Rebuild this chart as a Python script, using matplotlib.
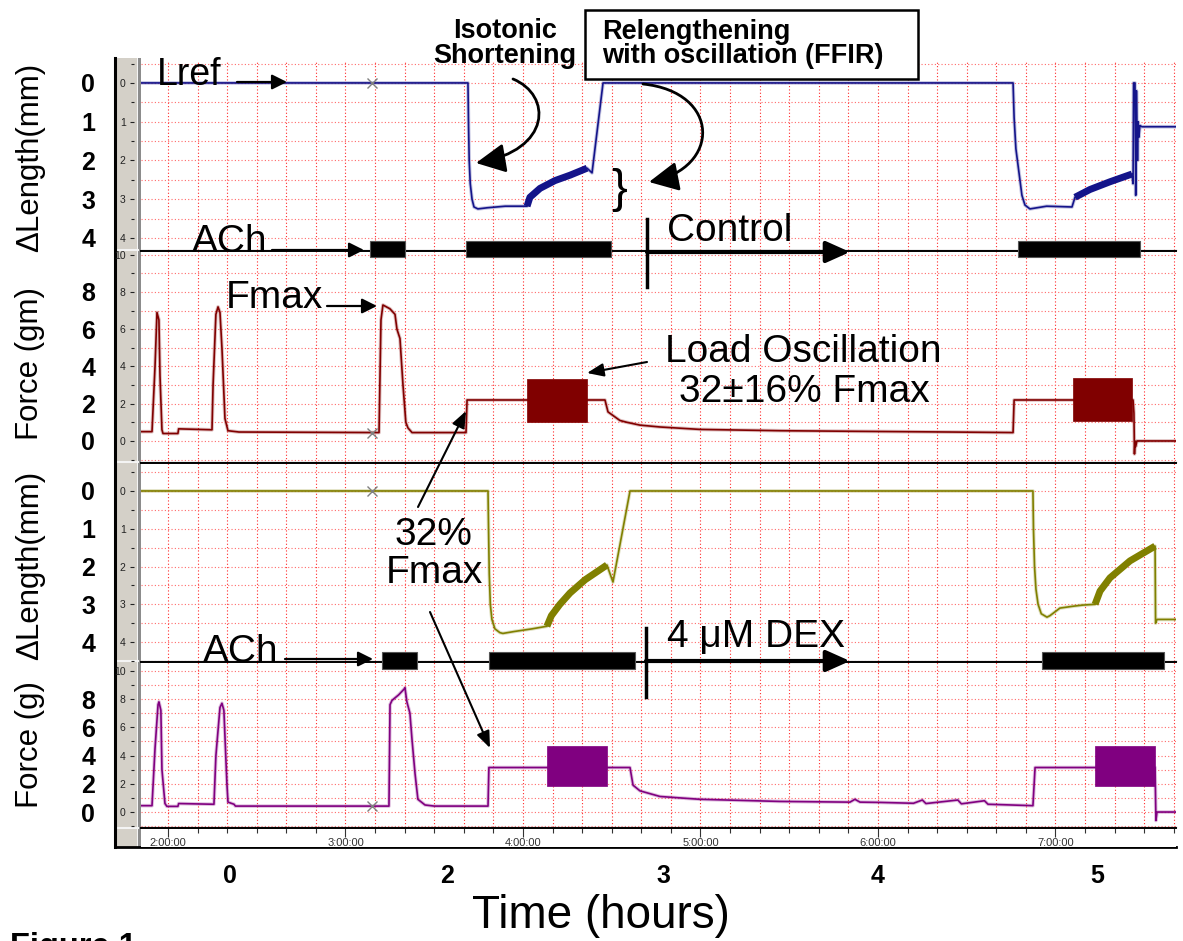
import numpy as np
import matplotlib
matplotlib.use('Agg')
import matplotlib.pyplot as plt
from matplotlib.patches import Rectangle, FancyArrowPatch
from matplotlib.path import Path
from matplotlib.ticker import MultipleLocator
from matplotlib.transforms import blended_transform_factory

plt.rcParams['font.family'] = ['Liberation Sans', 'DejaVu Sans']

W, H = 1183, 941
T0, T1 = 1.848, 7.679  # visible clock time on the recorder, hours

# ---- control run: length (mm below Lref) ----
ctrl_len_t = [1.848, 3.690, 3.693, 3.697, 3.703, 3.713, 3.724, 3.746, 3.80, 3.90,
              4.023, 4.039, 4.096, 4.180, 4.265, 4.361, 4.389, 4.451, 6.761, 6.767,
              6.777, 6.794, 6.811, 6.828, 6.856, 6.95, 7.093, 7.110, 7.194, 7.307,
              7.431, 7.437, 7.440, 7.448, 7.452, 7.456, 7.462, 7.466, 7.470, 7.476,
              7.487, 7.679]
ctrl_len_mm = [0, 0, 1.0, 2.0, 2.6, 3.0, 3.2, 3.25, 3.22, 3.18,
               3.18, 2.95, 2.72, 2.52, 2.38, 2.2, 2.32, 0, 0, 0.9,
               1.7, 2.3, 2.9, 3.15, 3.25, 3.18, 3.2, 2.95, 2.75, 2.55,
               2.35, 2.6, 0, 0, 2.9, 0.2, 2.0, 1.0, 1.4, 1.1,
               1.13, 1.13]

# ---- control run: force (gm) ----
ctrl_force_t = [1.848, 1.910, 1.927, 1.938, 1.949, 1.955, 1.966, 1.972, 2.056, 2.060,
                2.248, 2.254, 2.270, 2.282, 2.293, 2.304, 2.321, 2.338, 2.40, 3.189,
                3.200, 3.211, 3.25, 3.279, 3.290, 3.307, 3.324, 3.340, 3.352, 3.375,
                3.679, 3.685, 4.462, 4.479, 4.546, 4.586, 4.659, 4.772, 4.997, 5.448,
                5.842, 6.406, 6.761, 6.767, 7.437, 7.442, 7.445, 7.448, 7.452, 7.459,
                7.679]
ctrl_force_g = [0.5, 0.5, 4.0, 6.9, 6.5, 3.5, 0.6, 0.4, 0.4, 0.65,
                0.6, 3.0, 6.8, 7.2, 6.9, 5.0, 1.2, 0.55, 0.48, 0.45,
                6.5, 7.3, 7.1, 6.8, 6.0, 5.5, 3.0, 1.0, 0.7, 0.45,
                0.45, 2.2, 2.2, 1.56, 1.1, 1.0, 0.85, 0.75, 0.62, 0.55,
                0.52, 0.48, 0.45, 2.2, 2.2, 1.5, -0.7, 0.0, -0.3, 0.0,
                0.0]

# ---- 4 uM DEX run: length (mm) ----
dex_len_t = [1.848, 3.803, 3.806, 3.810, 3.816, 3.825, 3.842, 3.870, 3.887, 3.95,
             4.05, 4.135, 4.16, 4.208, 4.265, 4.35, 4.473, 4.507, 4.603, 6.873,
             6.876, 6.882, 6.890, 6.902, 6.920, 6.952, 6.969, 7.025, 7.10, 7.155,
             7.223, 7.251, 7.307, 7.42, 7.561, 7.564, 7.572, 7.679]
dex_len_mm = [0, 0, 1.0, 2.2, 3.0, 3.4, 3.65, 3.75, 3.77, 3.72,
              3.65, 3.58, 3.3, 3.0, 2.7, 2.35, 1.96, 2.41, 0, 0,
              1.0, 2.0, 2.6, 3.0, 3.25, 3.34, 3.3, 3.1, 3.05, 3.02,
              3.0, 2.65, 2.3, 1.85, 1.46, 3.5, 3.4, 3.4]

# ---- 4 uM DEX run: force (g) ----
dex_force_t = [1.848, 1.910, 1.927, 1.944, 1.949, 1.960, 1.966, 1.983, 1.994, 2.056,
               2.060, 2.259, 2.270, 2.293, 2.304, 2.315, 2.332, 2.338, 2.372, 2.38,
               3.245, 3.251, 3.262, 3.30, 3.330, 3.335, 3.346, 3.363, 3.375, 3.392,
               3.408, 3.448, 3.50, 3.803, 3.808, 4.603, 4.620, 4.659, 4.772, 4.997,
               5.448, 5.842, 5.870, 5.899, 6.011, 6.20, 6.25, 6.27, 6.45, 6.47,
               6.60, 6.62, 6.873, 6.885, 7.561, 7.566, 7.572, 7.679]
dex_force_g = [0.45, 0.45, 4.5, 7.6, 7.8, 7.2, 3.0, 0.6, 0.4, 0.4,
               0.6, 0.55, 4.0, 7.4, 7.7, 7.2, 2.0, 0.7, 0.55, 0.42,
               0.42, 7.6, 7.9, 8.3, 8.7, 8.8, 7.8, 7.0, 5.1, 2.7,
               0.9, 0.5, 0.42, 0.42, 3.15, 3.15, 1.9, 1.5, 1.1, 0.9,
               0.75, 0.7, 0.9, 0.7, 0.68, 0.62, 0.85, 0.6, 0.85, 0.58,
               0.8, 0.55, 0.45, 3.15, 3.15, -0.6, 0.0, 0.0]

# load oscillation windows (hours) and force envelope
ctrl_osc_t = [(4.023, 4.361), (7.099, 7.431)]
ctrl_osc_lo = [1.0, 1.07]
ctrl_osc_hi = [3.3, 3.4]
dex_osc_t = [(4.135, 4.473), (7.223, 7.561)]
dex_osc_lo = [1.85, 1.85]
dex_osc_hi = [4.7, 4.65]

# ACh stimulation periods (hours)
ctrl_ach = [(3.138, 3.335), (3.679, 4.496), (6.789, 7.476)]
dex_ach = [(3.206, 3.403), (3.808, 4.631), (6.924, 7.611)]

# cursor marks
cursor_t = 3.149
cursor_v = [0, 0.45, 0, 0.42]

clock_hours = [2, 3, 4, 5, 6, 7]
clock_labels = ['2:00:00', '3:00:00', '4:00:00', '5:00:00', '6:00:00', '7:00:00']
elapsed_t = [2.349, 3.572, 4.789, 6.0, 7.234]
elapsed_labels = ['0', '2', '3', '4', '5']


def rect_px(top, bot):
    return [141 / W, (H - bot) / H, 1035 / W, (bot - top) / H]


fig = plt.figure(figsize=(W / 100, H / 100), dpi=100)
fig.patch.set_facecolor('white')

# background: instrument frame
bg = fig.add_axes([0, 0, 1, 1], zorder=-5)
bg.set_xlim(0, W)
bg.set_ylim(H, 0)
bg.axis('off')
bg.add_patch(Rectangle((117, 58), 21, 789, facecolor='#d4d0c8', edgecolor='none'))
bg.add_patch(Rectangle((137, 58), 1.5, 789, facecolor='#f4f4f4', edgecolor='none'))
bg.add_patch(Rectangle((138.5, 58), 2.5, 789, facecolor='#8c8c8c', edgecolor='none'))
for yy in [250, 462, 661, 828]:
    bg.plot([117, 138], [yy, yy], color='#f4f4f4', lw=1.5)
bg.plot([115.5, 115.5], [58, 847], color='k', lw=2.2)
bg.plot([115, 1176], [847, 847], color='k', lw=2)


def panel(rect, ylim, major, labels, minor, outer, ylabel, ylab_y):
    ax = fig.add_axes(rect)
    ax.set_facecolor('white')
    ax.set_xlim(T0, T1)
    ax.set_ylim(*ylim)
    ax.xaxis.set_major_locator(MultipleLocator(1))
    ax.xaxis.set_minor_locator(MultipleLocator(1 / 6))
    ax.tick_params(axis='x', which='both', length=0, labelbottom=False)
    ax.set_yticks(major)
    ax.set_yticklabels(labels)
    ax.yaxis.set_minor_locator(MultipleLocator(minor))
    ax.tick_params(axis='y', which='major', length=3, width=0.8, labelsize=7.5,
                   pad=3, colors='#222222')
    ax.tick_params(axis='y', which='minor', length=2.5, width=0.8, colors='#222222')
    ax.spines['left'].set_position(('outward', 5))
    ax.spines['left'].set_visible(False)
    ax.spines['right'].set_visible(False)
    ax.spines['top'].set_color('k')
    ax.spines['top'].set_linewidth(1.4)
    ax.spines['bottom'].set_color('#b0b0b0')
    ax.spines['bottom'].set_linewidth(1.0)
    ax.grid(which='both', axis='x', color='#ff2a2a', ls=(0, (1, 2)), lw=0.8)
    ax.grid(which='both', axis='y', color='#ff6a6a', ls=(0, (1, 2)), lw=0.8)
    ax.set_axisbelow(True)
    tr = ax.get_yaxis_transform()
    for v, lab in outer:
        ax.text(-0.051, v, lab, transform=tr, ha='center', va='center_baseline',
                fontsize=18, fontweight='bold')
    ax.text(-0.107, ylab_y, ylabel, transform=ax.transAxes, rotation=90,
            ha='center', va='center', fontsize=22.5)
    return ax


len_ticks = [0, 1, 2, 3, 4]
len_outer = [(v, str(v)) for v in len_ticks]
f_ticks = [0, 2, 4, 6, 8, 10]
f_outer = [(v, str(v)) for v in [8, 6, 4, 2, 0]]

ax1 = panel(rect_px(62, 250), (4.31, -0.54), len_ticks, [str(v) for v in len_ticks], 0.5,
            len_outer, '\u0394Length(mm)', 0.495)
ax2 = panel(rect_px(251, 462), (-1.13, 10.2), f_ticks, [str(v) for v in f_ticks], 1,
            f_outer, 'Force (gm)', 0.469)
ax3 = panel(rect_px(463, 661), (4.50, -0.74), len_ticks, [str(v) for v in len_ticks], 0.5,
            len_outer, '\u0394Length(mm)', 0.485)
ax4 = panel(rect_px(662, 827), (-1.06, 10.62), f_ticks, [str(v) for v in f_ticks], 1,
            f_outer, 'Force (g)', 0.497)
ax1.spines['top'].set_visible(False)


def length_trace(ax, t, v, windows, color):
    t = np.asarray(t)
    v = np.asarray(v)
    ax.plot(t, v, color=color, lw=2.6, alpha=0.25)
    ax.plot(t, v, color=color, lw=1.2)
    for a, b in windows:
        m = (t >= a) & (t <= b)
        ax.plot(t[m], v[m], color=color, lw=5, solid_capstyle='butt')


def force_trace(ax, t, v, windows, lo, hi, color):
    ax.plot(t, v, color=color, lw=2.6, alpha=0.25)
    ax.plot(t, v, color=color, lw=1.2)
    for (a, b), l, h in zip(windows, lo, hi):
        ax.fill_between([a, b], [l, l], [h, h], color=color, lw=0.5, ec=color)


length_trace(ax1, ctrl_len_t, ctrl_len_mm, ctrl_osc_t, '#14148a')
force_trace(ax2, ctrl_force_t, ctrl_force_g, ctrl_osc_t, ctrl_osc_lo, ctrl_osc_hi, '#800000')
length_trace(ax3, dex_len_t, dex_len_mm, dex_osc_t, '#808000')
force_trace(ax4, dex_force_t, dex_force_g, dex_osc_t, dex_osc_lo, dex_osc_hi, '#800080')

for ax, v in zip([ax1, ax2, ax3, ax4], cursor_v):
    ax.plot([cursor_t], [v], marker='x', ms=7, mew=1, color='#808080', zorder=5)

# time strip of the recorder
axt = fig.add_axes(rect_px(828, 847))
axt.set_facecolor('white')
axt.set_xlim(T0, T1)
axt.set_ylim(0, 1)
axt.set_yticks([])
axt.set_xticks(clock_hours)
axt.xaxis.set_minor_locator(MultipleLocator(1 / 6))
axt.tick_params(axis='x', which='both', top=True, bottom=False, labelbottom=False,
                direction='in', width=0.8, colors='#333333')
axt.tick_params(axis='x', which='major', length=6.5)
axt.tick_params(axis='x', which='minor', length=3.6)
for s in ['left', 'right', 'bottom']:
    axt.spines[s].set_visible(False)
axt.spines['top'].set_color('k')
axt.spines['top'].set_linewidth(1.4)
ttr = axt.get_xaxis_transform()
for h, lab in zip(clock_hours, clock_labels):
    axt.text(h, 0.45, lab, transform=ttr, ha='center', va='top', fontsize=8,
             color='#333333', clip_on=True)

# annotation layer in pixel coordinates
ov = fig.add_axes([0, 0, 1, 1], zorder=10)
ov.set_xlim(0, W)
ov.set_ylim(H, 0)
ov.axis('off')
ov.patch.set_alpha(0)

bar_tr = blended_transform_factory(ax1.transData, ov.transData)
for a, b in ctrl_ach:
    ov.add_patch(Rectangle((a, 241), b - a, 16, transform=bar_tr, facecolor='k',
                           edgecolor='#555555', lw=0.8))
for a, b in dex_ach:
    ov.add_patch(Rectangle((a, 652), b - a, 17, transform=bar_tr, facecolor='k',
                           edgecolor='#555555', lw=0.8))


def arrow(p0, p1, lw=1.6, hl=0.9, hw=0.45):
    ov.annotate('', xy=p1, xytext=p0,
                arrowprops=dict(arrowstyle='-|>,head_length=%s,head_width=%s' % (hl, hw),
                                lw=lw, color='k', shrinkA=0, shrinkB=0, mutation_scale=10))


big = 28
ov.text(157, 85, 'Lref', fontsize=27)
arrow((237, 82), (287, 82))
ov.text(192, 252, 'ACh', fontsize=big)
arrow((272, 250), (364, 250))
ov.text(203, 662, 'ACh', fontsize=big)
arrow((285, 659), (373, 659))
ov.text(226, 308, 'Fmax', fontsize=big)
arrow((327, 306), (377, 306))

ov.text(505, 38, 'Isotonic', fontsize=19.5, fontweight='bold', ha='center')
ov.text(505, 63, 'Shortening', fontsize=19.5, fontweight='bold', ha='center')
ov.add_patch(Rectangle((585, 10), 333, 69, facecolor='white', edgecolor='k', lw=1.8))
ov.text(602, 39, 'Relengthening', fontsize=19.5, fontweight='bold')
ov.text(602, 63, 'with oscillation (FFIR)', fontsize=19.5, fontweight='bold')

for verts in [[(513, 79), (552, 95), (552, 150), (476, 163)],
              [(643, 84), (721, 92), (721, 168), (649, 182)]]:
    path = Path(verts, [Path.MOVETO, Path.CURVE4, Path.CURVE4, Path.CURVE4])
    ov.add_patch(FancyArrowPatch(path=path, arrowstyle='-|>,head_length=1.5,head_width=0.75',
                                 mutation_scale=12, lw=2, color='k'))
ov.text(619, 190, '}', fontsize=34, ha='center', va='center')

ov.plot([647, 647], [219, 287], color='k', lw=2.5)
ov.text(667, 241, 'Control', fontsize=big)
arrow((647, 252), (850, 252), lw=3, hl=1.45, hw=0.65)

ov.text(803, 362, 'Load Oscillation', fontsize=big, ha='center')
ov.text(804, 402, '32\u00b116% Fmax', fontsize=big, ha='center')
arrow((647, 362), (587, 373), lw=1.5, hl=1.0, hw=0.4)

ov.text(433, 545, '32%', fontsize=big, ha='center')
ov.text(434, 583, 'Fmax', fontsize=big, ha='center')
arrow((418, 507), (466, 411), lw=1.5, hl=1.0, hw=0.4)
arrow((430, 612), (490, 748), lw=1.5, hl=1.0, hw=0.4)

ov.plot([646, 646], [628, 697], color='k', lw=2.5)
ov.text(667, 647, '4 \u03bcM DEX', fontsize=big)
arrow((646, 661), (850, 661), lw=3, hl=1.45, hw=0.65)

etr = blended_transform_factory(ax4.transData, ov.transData)
for t, lab in zip(elapsed_t, elapsed_labels):
    ov.text(t, 883, lab, transform=etr, ha='center', fontsize=18, fontweight='bold')
ov.text(601, 928, 'Time (hours)', fontsize=33, ha='center')
ov.text(10, 956, 'Figure 1', fontsize=23.5, fontweight='bold', clip_on=False)

fig.savefig('out.png', dpi=100)
